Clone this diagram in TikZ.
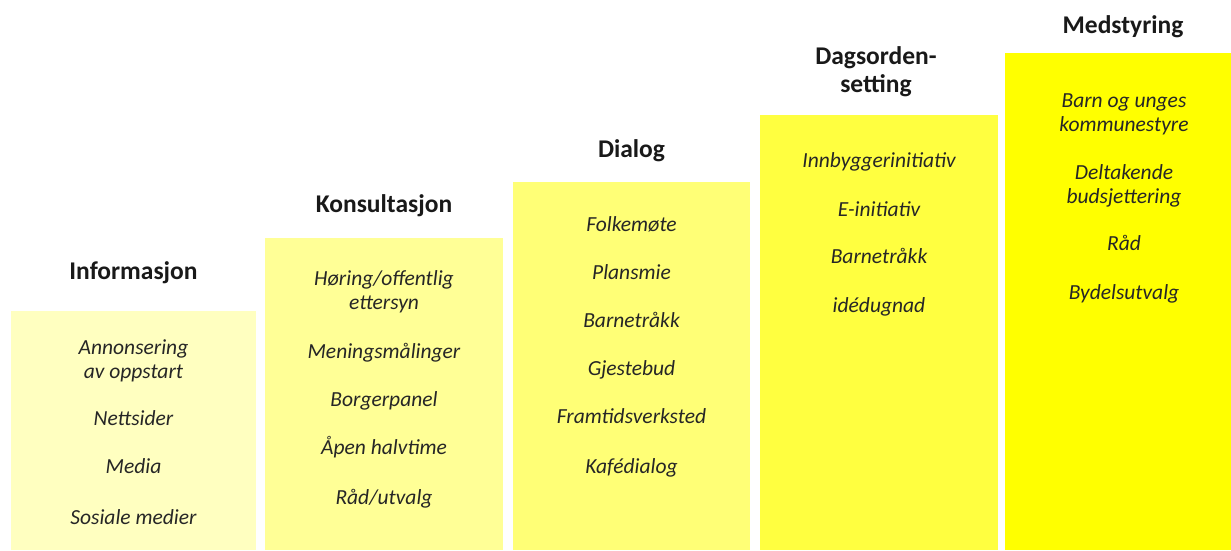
\documentclass[tikz,border=0pt]{standalone}
\usepackage{fontspec}
\setmainfont{Carlito}
\definecolor{stepA}{RGB}{255,255,192}
\definecolor{stepB}{RGB}{255,255,150}
\definecolor{stepC}{RGB}{255,255,118}
\definecolor{stepD}{RGB}{255,255,64}
\definecolor{stepE}{RGB}{255,255,0}
\tikzset{
  stepbox/.style={inner sep=0pt, anchor=north west},
  heading/.style={font=\fontsize{25.5}{28}\selectfont\bfseries, text=black!90, align=center, anchor=mid},
  item/.style={font=\fontsize{21.5}{24}\selectfont\itshape, text=black!85, align=center, anchor=mid}
}
\begin{document}
\begin{tikzpicture}[x=1pt, y=-1pt]
        \useasboundingbox (0,0) rectangle (1231,550);
        
        % trappetrinn
        \node[stepbox, fill=stepA, minimum width=245pt, minimum height=239pt] (info) at (11,311) {};
        \node[stepbox, fill=stepB, minimum width=238pt, minimum height=312pt] (kons) at (265,238) {};
        \node[stepbox, fill=stepC, minimum width=237pt, minimum height=368pt] (dial) at (513,182) {};
        \node[stepbox, fill=stepD, minimum width=238pt, minimum height=435pt] (dags) at (760,115) {};
        \node[stepbox, fill=stepE, minimum width=226pt, minimum height=497pt] (med) at (1005,53) {};
        
        % overskrifter
        \node[heading] (infoT) at (133.5,277) {Informasjon};
        \node[heading] (konsT) at (384,210) {Konsultasjon};
        \node[heading] (dialT) at (631.5,155) {Dialog};
        \node[heading] (dagsT) at (876,90) {Dagsorden-\\setting};
        \node[heading] (medT) at (1123,31) {Medstyring};
        
        % informasjon
        \node[item] (i1) at (133.5,376) {Annonsering\\av oppstart};
        \node[item] (i2) at (133.5,423) {Nettsider};
        \node[item] (i3) at (133.5,471) {Media};
        \node[item] (i4) at (133.5,522) {Sosiale medier};
        
        % konsultasjon
        \node[item] (k1) at (384,307) {Høring/offentlig\\ettersyn};
        \node[item] (k2) at (384,356) {Meningsmålinger};
        \node[item] (k3) at (384,404) {Borgerpanel};
        \node[item] (k4) at (384,452) {Åpen halvtime};
        \node[item] (k5) at (384,502) {Råd/utvalg};
        
        % dialog
        \node[item] (d1) at (631.5,229) {Folkemøte};
        \node[item] (d2) at (631.5,277) {Plansmie};
        \node[item] (d3) at (631.5,325) {Barnetråkk};
        \node[item] (d4) at (631.5,373) {Gjestebud};
        \node[item] (d5) at (631.5,421) {Framtidsverksted};
        \node[item] (d6) at (631.5,471) {Kafédialog};
        
        % dagsordensetting
        \node[item] (a1) at (879,165) {Innbyggerinitiativ};
        \node[item] (a2) at (879,214) {E-initiativ};
        \node[item] (a3) at (879,261) {Barnetråkk};
        \node[item] (a4) at (879,310) {idédugnad};
        
        % medstyring
        \node[item] (m1) at (1124,129) {Barn og unges\\kommunestyre};
        \node[item] (m2) at (1124,201) {Deltakende\\budsjettering};
        \node[item] (m3) at (1124,248) {Råd};
        \node[item] (m4) at (1124,297) {Bydelsutvalg};
    \end{tikzpicture}
\end{document}
